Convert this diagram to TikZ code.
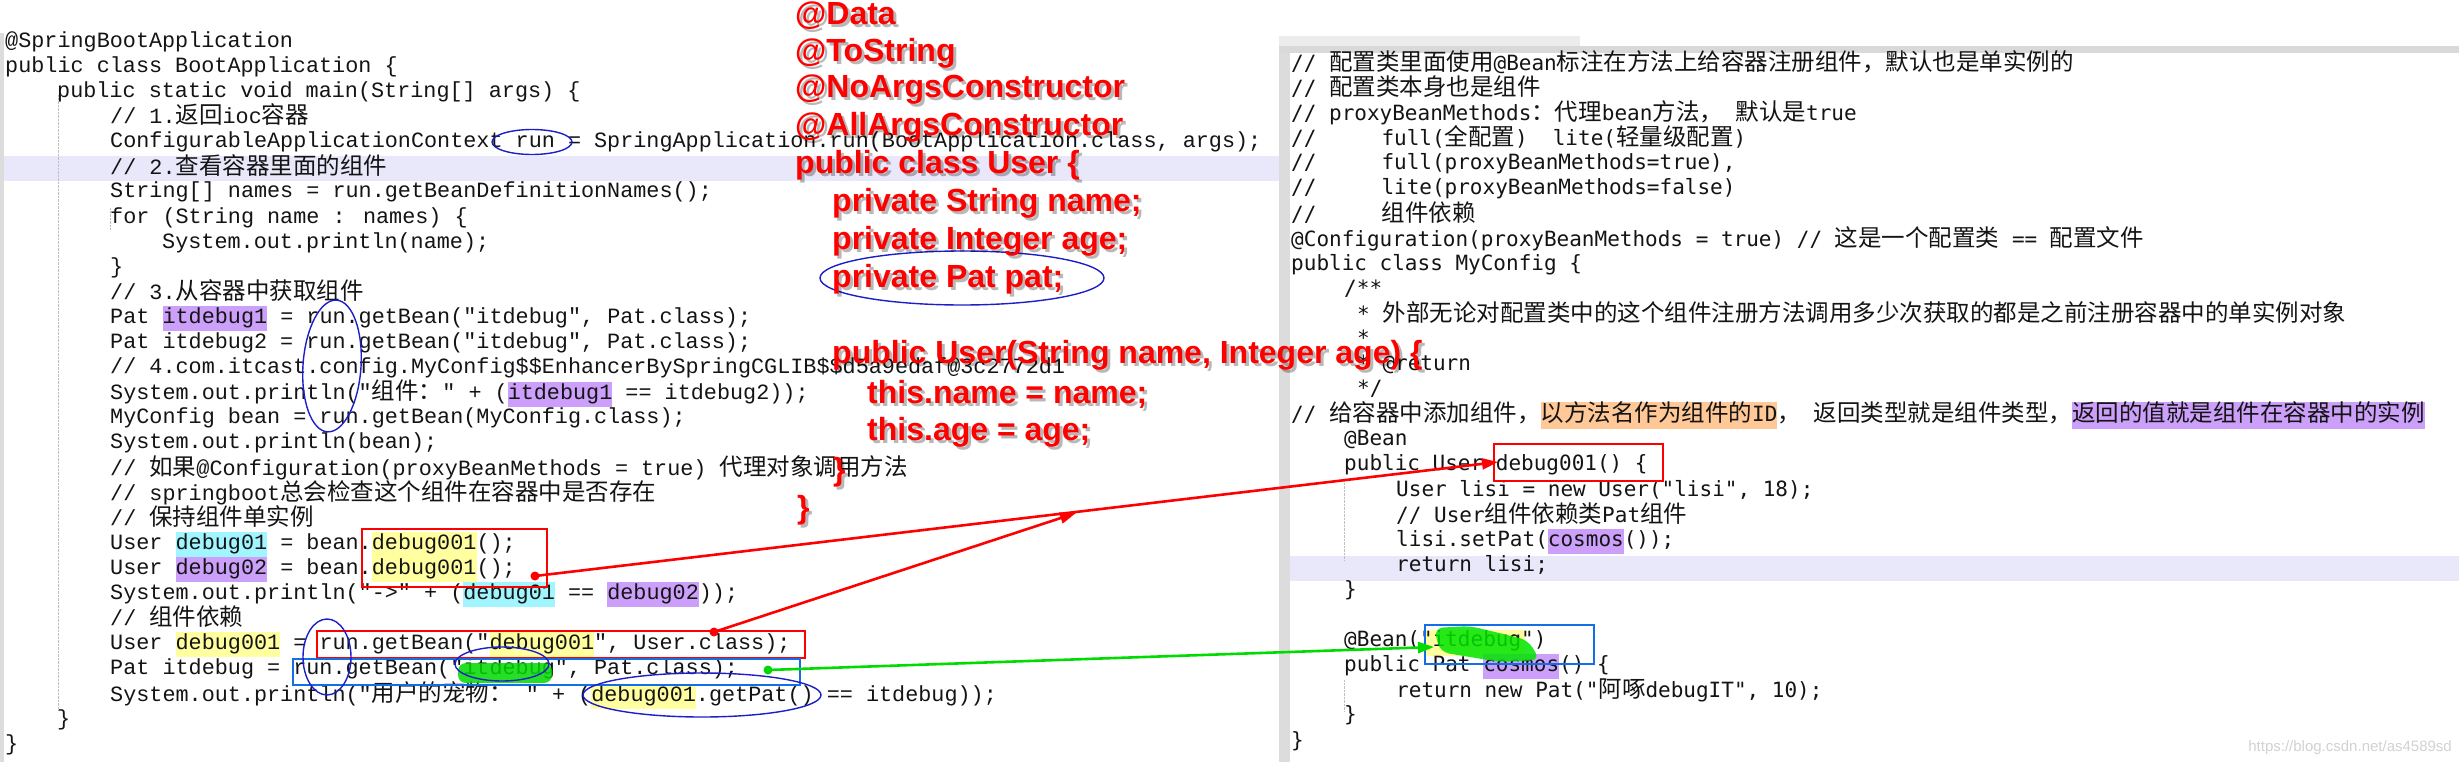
\documentclass[tikz,border=0pt]{standalone}
\usepackage{fontspec}
\usetikzlibrary{arrows.meta}
\newfontfamily\lmonof{Liberation Mono}
\newfontfamily\rmonof{DejaVu Sans Mono}
\newfontfamily\cjkf{Noto Sans CJK SC}
\newfontfamily\redf{Liberation Sans}
\newcommand\zh[1]{{\cjkf\fontsize{23.5}{25}\selectfont #1}}
\newcommand\hl[2]{{\setlength{\fboxsep}{0pt}\colorbox{#1}{\strut #2}}}
\definecolor{hpur}{RGB}{204,160,250}
\definecolor{hcy}{RGB}{160,245,255}
\definecolor{hye}{RGB}{255,255,160}
\definecolor{hor}{RGB}{255,200,150}
\definecolor{band}{RGB}{232,232,250}
\definecolor{gutter}{RGB}{220,220,220}
\definecolor{txt}{RGB}{20,20,20}
\definecolor{bblue}{RGB}{30,30,200}
\definecolor{lblue}{RGB}{20,110,230}
\begin{document}
\begin{tikzpicture}[x=1pt,y=-1pt,
  lc/.style={anchor=west,inner sep=0pt,text=txt,font=\lmonof\fontsize{21.8}{25}\selectfont},
  rc/.style={anchor=west,inner sep=0pt,text=txt,font=\rmonof\fontsize{21}{25}\selectfont},
  redt/.style={anchor=west,inner sep=0pt,text=red,font=\redf\bfseries\fontsize{32}{38}\selectfont},
  shd/.style={anchor=west,inner sep=0pt,text=black,opacity=0.28,font=\redf\bfseries\fontsize{32}{38}\selectfont},
  rbox/.style={draw=red,line width=1.6pt},
  bbox/.style={draw=lblue,line width=1.4pt},
  bell/.style={draw=bblue,line width=1.4pt},
  rarr/.style={draw=red,line width=2.6pt,-{Triangle[length=16pt,width=11pt]}},
  garr/.style={draw={rgb,255:red,0;green,220;blue,0},line width=2.6pt,-{Triangle[length=16pt,width=11pt]}},
]
\useasboundingbox (0,0) rectangle (2459,762);
\fill[white] (0,0) rectangle (2459,762);
% left panel
\fill[gutter] (0,33) rectangle (4,762);
\fill[band] (4,156) rectangle (1279,181);
\draw[gray!50,densely dotted] (58,95) -- (58,710);
\draw[gray!50,densely dotted] (110,208) -- (110,230);
% left code
\node[lc] (l0) at (5,{42.3+25.1*0}) {\strut @SpringBootApplication};
\node[lc] (l1) at (5,{42.3+25.1*1}) {\strut public class BootApplication \{};
\node[lc] (l2) at (57,{42.3+25.1*2}) {\strut public static void main(String[] args) \{};
\node[lc] (l3) at (110,{42.3+25.1*3}) {\strut // 1.\zh{返回}ioc\zh{容器}};
\node[lc] (l4) at (110,{42.3+25.1*4}) {\strut ConfigurableApplicationContext run = SpringApplication.run(BootApplication.class, args);};
\node[lc] (l5) at (110,{42.3+25.1*5}) {\strut // 2.\zh{查看容器里面的组件}};
\node[lc] (l6) at (110,{42.3+25.1*6}) {\strut String[] names = run.getBeanDefinitionNames();};
\node[lc] (l7) at (110,{42.3+25.1*7}) {\strut for (String name : names) \{};
\node[lc] (l8) at (162,{42.3+25.1*8}) {\strut System.out.println(name);};
\node[lc] (l9) at (110,{42.3+25.1*9}) {\strut \}};
\node[lc] (l10) at (110,{42.3+25.1*10}) {\strut // 3.\zh{从容器中获取组件}};
\node[lc] (l11) at (110,{42.3+25.1*11}) {\strut Pat \hl{hpur}{itdebug1} = run.getBean("itdebug", Pat.class);};
\node[lc] (l12) at (110,{42.3+25.1*12}) {\strut Pat itdebug2 = run.getBean("itdebug", Pat.class);};
\node[lc] (l13) at (110,{42.3+25.1*13}) {\strut // 4.com.itcast.config.MyConfig\$\$EnhancerBySpringCGLIB\$\$d5a9edaf@3c2772d1};
\node[lc] (l14) at (110,{42.3+25.1*14}) {\strut System.out.println("\zh{组件：}" + (\hl{hpur}{itdebug1} == itdebug2));};
\node[lc] (l15) at (110,{42.3+25.1*15}) {\strut MyConfig bean = run.getBean(MyConfig.class);};
\node[lc] (l16) at (110,{42.3+25.1*16}) {\strut System.out.println(bean);};
\node[lc] (l17) at (110,{42.3+25.1*17}) {\strut // \zh{如果}@Configuration(proxyBeanMethods = true) \zh{代理对象调用方法}};
\node[lc] (l18) at (110,{42.3+25.1*18}) {\strut // springboot\zh{总会检查这个组件在容器中是否存在}};
\node[lc] (l19) at (110,{42.3+25.1*19}) {\strut // \zh{保持组件单实例}};
\node[lc] (l20) at (110,{42.3+25.1*20}) {\strut User \hl{hcy}{debug01} = bean.\hl{hye}{debug001}();};
\node[lc] (l21) at (110,{42.3+25.1*21}) {\strut User \hl{hpur}{debug02} = bean.\hl{hye}{debug001}();};
\node[lc] (l22) at (110,{42.3+25.1*22}) {\strut System.out.println("->" + (\hl{hcy}{debug01} == \hl{hpur}{debug02}));};
\node[lc] (l23) at (110,{42.3+25.1*23}) {\strut // \zh{组件依赖}};
\node[lc] (l24) at (110,{42.3+25.1*24}) {\strut User \hl{hye}{debug001} = run.getBean("\hl{hye}{debug001}", User.class);};
\node[lc] (l25) at (110,{42.3+25.1*25}) {\strut Pat itdebug = run.getBean("itdebug", Pat.class);};
\node[lc] (l26) at (110,{42.3+25.1*26}) {\strut System.out.println("\zh{用户的宠物：} " + (\hl{hye}{debug001}.getPat() == itdebug));};
\node[lc] (l27) at (57,{42.3+25.1*27}) {\strut \}};
\node[lc] (l28) at (5,{42.3+25.1*28}) {\strut \}};
% right panel
\begin{scope}
\clip (1279,0) rectangle (2459,762);
\fill[white] (1279,46) rectangle (2459,762);
\fill[gray!30] (1279,46) rectangle (2459,53);
\fill[gray!15] (1279,36) rectangle (1580,46);
\fill[gutter] (1279,53) rectangle (1290,762);
\fill[band] (1290,556) rectangle (2459,581);
\draw[gray!50,densely dotted] (1344,480) -- (1344,560);
\draw[gray!50,densely dotted] (1344,680) -- (1344,712);
\fill[hye] (1425,630) rectangle (1525,656);
\node[rc] (r0) at (1291,{64.3+25.1*0}) {\strut // \zh{配置类里面使用}@Bean\zh{标注在方法上给容器注册组件，默认也是单实例的}};
\node[rc] (r1) at (1291,{64.3+25.1*1}) {\strut // \zh{配置类本身也是组件}};
\node[rc] (r2) at (1291,{64.3+25.1*2}) {\strut // proxyBeanMethods\zh{：代理}bean\zh{方法，} \zh{默认是}true};
\node[rc] (r3) at (1291,{64.3+25.1*3}) {\strut //\hspace{65pt}full(\zh{全配置})\hspace{25pt}lite(\zh{轻量级配置})};
\node[rc] (r4) at (1291,{64.3+25.1*4}) {\strut //\hspace{65pt}full(proxyBeanMethods=true),};
\node[rc] (r5) at (1291,{64.3+25.1*5}) {\strut //\hspace{65pt}lite(proxyBeanMethods=false)};
\node[rc] (r6) at (1291,{64.3+25.1*6}) {\strut //\hspace{65pt}\zh{组件依赖}};
\node[rc] (r7) at (1291,{64.3+25.1*7}) {\strut @Configuration(proxyBeanMethods = true) // \zh{这是一个配置类} == \zh{配置文件}};
\node[rc] (r8) at (1291,{64.3+25.1*8}) {\strut public class MyConfig \{};
\node[rc] (r9) at (1344,{64.3+25.1*9}) {\strut /**};
\node[rc] (r10) at (1357,{64.3+25.1*10}) {\strut * \zh{外部无论对配置类中的这个组件注册方法调用多少次获取的都是之前注册容器中的单实例对象}};
\node[rc] (r11) at (1357,{64.3+25.1*11}) {\strut *};
\node[rc] (r12) at (1357,{64.3+25.1*12}) {\strut * @return};
\node[rc] (r13) at (1357,{64.3+25.1*13}) {\strut */};
\node[rc] (r14) at (1291,{64.3+25.1*14}) {\strut // \zh{给容器中添加组件，}\hl{hor}{\zh{以方法名作为组件的}ID}\zh{，} \zh{返回类型就是组件类型，}\hl{hpur}{\zh{返回的值就是组件在容器中的实例}}};
\node[rc] (r15) at (1344,{64.3+25.1*15}) {\strut @Bean};
\node[rc] (r16) at (1344,{64.3+25.1*16}) {\strut public User debug001() \{};
\node[rc] (r17) at (1396,{64.3+25.1*17}) {\strut User lisi = new User("lisi", 18);};
\node[rc] (r18) at (1396,{64.3+25.1*18}) {\strut // User\zh{组件依赖类}Pat\zh{组件}};
\node[rc] (r19) at (1396,{64.3+25.1*19}) {\strut lisi.setPat(\hl{hpur}{cosmos}());};
\node[rc] (r20) at (1396,{64.3+25.1*20}) {\strut return lisi;};
\node[rc] (r21) at (1344,{64.3+25.1*21}) {\strut \}};
\node[rc] (r23) at (1344,{64.3+25.1*23}) {\strut @Bean("itdebug")};
\node[rc] (r24) at (1344,{64.3+25.1*24}) {\strut public Pat \hl{hpur}{cosmos}() \{};
\node[rc] (r25) at (1396,{64.3+25.1*25}) {\strut return new Pat("\zh{阿啄}debugIT", 10);};
\node[rc] (r26) at (1344,{64.3+25.1*26}) {\strut \}};
\node[rc] (r27) at (1291,{64.3+25.1*27}) {\strut \}};
\node[anchor=east,inner sep=0pt,text=gray!35,font=\redf\fontsize{15}{16}\selectfont] (wm) at (2452,748) {https://blog.csdn.net/as4589sd};
\end{scope}
% green scribbles
\fill[green!85!black,opacity=0.85,rounded corners=8pt] (458,663) rectangle (552,683);
\fill[green!90!black,opacity=0.85,rounded corners=9pt] (1434,628) -- (1470,626) -- (1528,640) -- (1540,660) -- (1500,662) -- (1440,652) -- cycle;
% boxes and ellipses
\draw[rbox] (362,529) rectangle (547,587);
\draw[rbox] (317,631) rectangle (805,658);
\draw[bbox] (293,659) rectangle (800,685);
\draw[rbox] (1494,444) rectangle (1663,481);
\draw[bbox] (1425,625) rectangle (1594,664);
\draw[bell] (532,142) ellipse [x radius=40,y radius=12.5];
\draw[bell,rotate around={-4:(332,366)}] (332,366) ellipse [x radius=29,y radius=66];
\draw[bell] (327,657) ellipse [x radius=24,y radius=38];
\draw[bell] (502,664) ellipse [x radius=47,y radius=17];
\draw[bell] (702,695) ellipse [x radius=119,y radius=22];
\draw[bell] (962,278) ellipse [x radius=142,y radius=27];
% red User text
\foreach \d in {0,3}{
\begin{scope}[shift={(\d,\d)}]
\ifnum\d=0 \tikzset{tt/.style={redt}}\else \tikzset{tt/.style={shd}}\fi
\end{scope}}
\newcommand\rline[4]{\node[shd] at (#2+3,#3+3) {#4}; \node[redt] (#1) at (#2,#3) {#4};}
\rline{u0}{795}{16}{@Data}
\rline{u1}{795}{53}{@ToString}
\rline{u2}{795}{90}{@NoArgsConstructor}
\rline{u3}{795}{127}{@AllArgsConstructor}
\rline{u4}{795}{165}{public class User \{}
\rline{u5}{832}{203}{private String name;}
\rline{u6}{832}{241}{private Integer age;}
\rline{u7}{832}{279}{private Pat pat;}
\rline{u8}{832}{355}{public User(String name, Integer age) \{}
\rline{u9}{867}{394}{this.name = name;}
\rline{u10}{867}{432}{this.age = age;}
\rline{u11}{833}{472}{\}}
\rline{u12}{797}{510}{\}}
% arrows
\coordinate (a1s) at (535,576);
\coordinate (a1e) at (1498,462);
\coordinate (a2s) at (714,632);
\coordinate (a2e) at (1076,513);
\coordinate (gs) at (768,670);
\coordinate (ge) at (1434,647);
\fill[red] (a1s) circle (4.5);
\fill[red] (a2s) circle (4.5);
\fill[green!85!black] (gs) circle (4.5);
\draw[rarr] (a1s) -- (a1e);
\draw[rarr] (a2s) -- (a2e);
\draw[garr] (gs) -- (ge);
\end{tikzpicture}
\end{document}
